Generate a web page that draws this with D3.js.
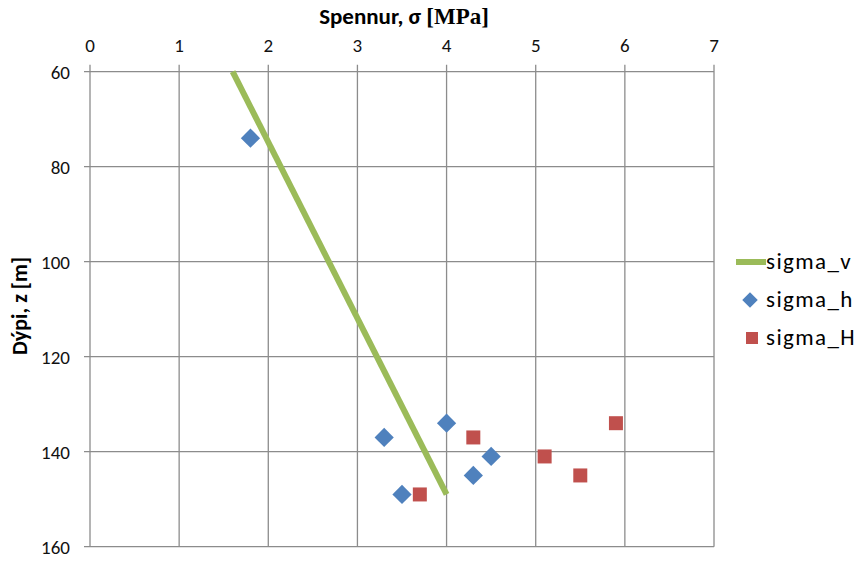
<!DOCTYPE html>
<html><head><meta charset="utf-8">
<script src="https://cdn.jsdelivr.net/npm/d3@7"></script>
<style>body{margin:0;background:#fff}svg{display:block}</style>
</head><body>
<svg id="c" width="868" height="561"></svg>
<script>
const xTicks = [0,1,2,3,4,5,6,7];
const yTicks = [60,80,100,120,140,160];
const sigmaV = [{s:1.6,z:60},{s:4.0,z:149}];
const sigmaH_small = [{s:1.8,z:74},{s:3.3,z:137},{s:4.0,z:134},{s:4.5,z:141},{s:4.3,z:145},{s:3.5,z:149}];
const sigmaH_big = [{s:4.3,z:137},{s:5.9,z:134},{s:5.1,z:141},{s:5.5,z:145},{s:3.7,z:149}];
const seriesNames = ["sigma_v","sigma_h","sigma_H"];
const colors = ["#9BBB59","#4F81BD","#C0504D"];

const svg = d3.select("#c");
const x = d3.scaleLinear().domain([0,7]).range([90,714]);
const y = d3.scaleLinear().domain([60,160]).range([71.7,546.7]);
const font = "Carlito, Lato, 'Open Sans', sans-serif";
const gridCol = "#8c8c8c";

// grid
svg.append("g").selectAll("line").data(xTicks).join("line")
  .attr("x1",d=>x(d)).attr("x2",d=>x(d)).attr("y1",y(60)-7).attr("y2",y(160))
  .attr("stroke",gridCol).attr("stroke-width",1.3);
svg.append("g").selectAll("line").data(yTicks).join("line")
  .attr("x1",x(0)-6).attr("x2",x(7)).attr("y1",d=>y(d)).attr("y2",d=>y(d))
  .attr("stroke",gridCol).attr("stroke-width",1.3);

// tick labels
svg.append("g").selectAll("text").data(xTicks).join("text")
  .attr("x",d=>x(d)).attr("y",52).attr("text-anchor","middle")
  .attr("font-family",font).attr("font-size",19).attr("fill","#111").text(d=>d);
svg.append("g").selectAll("text").data(yTicks).join("text")
  .attr("x",70).attr("y",d=>y(d)+7).attr("text-anchor","end")
  .attr("font-family",font).attr("font-size",19).attr("fill","#111").text(d=>d);

// titles
const xt = svg.append("text").attr("x",404).attr("y",24).attr("text-anchor","middle")
  .attr("font-weight","bold").attr("font-size",23).attr("fill","#000");
xt.append("tspan").attr("font-family",font).text("Spennur, σ ");
xt.append("tspan").attr("font-family","'Liberation Serif', serif").text("[MPa]");
svg.append("text").attr("transform","translate(27,306) rotate(-90)").attr("text-anchor","middle")
  .attr("font-family",font).attr("font-weight","bold").attr("font-size",22).attr("fill","#000")
  .text("Dýpi, z [m]");

// line
svg.append("path").datum(sigmaV)
  .attr("d",d3.line().x(d=>x(d.s)).y(d=>y(d.z)))
  .attr("stroke",colors[0]).attr("stroke-width",6).attr("fill","none");

// diamonds
svg.append("g").selectAll("path").data(sigmaH_small).join("path")
  .attr("transform",d=>`translate(${x(d.s)},${y(d.z)}) rotate(45)`)
  .attr("d",d3.symbol(d3.symbolSquare,185)())
  .attr("fill",colors[1]);
// squares
svg.append("g").selectAll("path").data(sigmaH_big).join("path")
  .attr("transform",d=>`translate(${x(d.s)},${y(d.z)})`)
  .attr("d",d3.symbol(d3.symbolSquare,196)())
  .attr("fill",colors[2]);

// legend
const lg = svg.append("g");
lg.append("line").attr("x1",736).attr("x2",766).attr("y1",262).attr("y2",262)
  .attr("stroke",colors[0]).attr("stroke-width",6);
lg.append("path").attr("transform","translate(750,300) rotate(45)")
  .attr("d",d3.symbol(d3.symbolSquare,120)()).attr("fill",colors[1]);
lg.append("path").attr("transform","translate(752,338)")
  .attr("d",d3.symbol(d3.symbolSquare,144)()).attr("fill",colors[2]);
lg.selectAll("text").data(seriesNames).join("text")
  .attr("x",766).attr("y",(d,i)=>269+i*38)
  .attr("font-family",font).attr("font-size",23).attr("letter-spacing",1.4).attr("fill","#000").text(d=>d);
</script>
</body></html>
